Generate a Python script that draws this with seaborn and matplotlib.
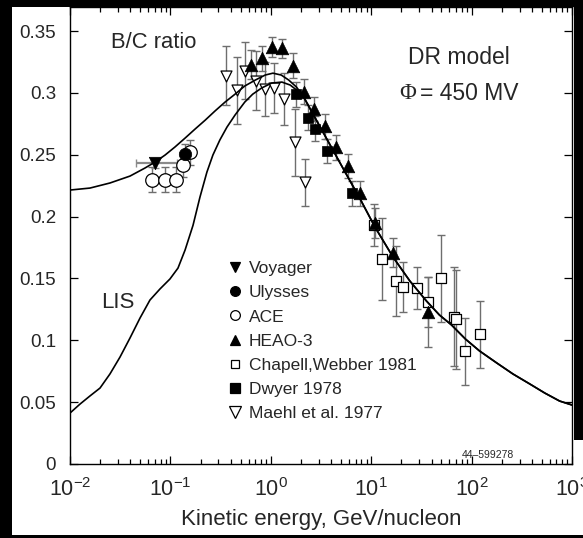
import matplotlib
matplotlib.use('Agg')
import matplotlib.pyplot as plt
import seaborn as sns
import numpy as np
from matplotlib.patches import Rectangle
from matplotlib.lines import Line2D
from matplotlib.ticker import LogLocator, NullFormatter, FixedLocator, FixedFormatter

sns.set_style('ticks')
plt.rcParams['font.family'] = ['Liberation Sans', 'DejaVu Sans']
plt.rcParams['mathtext.fontset'] = 'custom'
plt.rcParams['mathtext.rm'] = 'Liberation Sans'
plt.rcParams['mathtext.it'] = 'Liberation Sans:italic'
plt.rcParams['mathtext.bf'] = 'Liberation Sans:bold'

# ---------------- data ----------------
# modulated (Phi = 450 MV) curve
mod_E = [0.0100, 0.0158, 0.025, 0.0396, 0.0558, 0.0703, 0.0885, 0.111, 0.140, 0.176, 0.222,
         0.278, 0.350, 0.44, 0.55, 0.70, 0.88, 1.05, 1.27, 1.51, 1.80, 2.10, 2.77, 3.90, 5.5,
         7.77, 10.9, 16.5, 24.3, 35.5, 47.8, 63.1, 86.9, 120, 178, 258, 380, 535, 753, 1000]
mod_ratio = [0.2215, 0.2231, 0.2272, 0.2328, 0.2393, 0.2441, 0.2498, 0.2563, 0.2635, 0.2708,
             0.2780, 0.2854, 0.2926, 0.2990, 0.3056, 0.3104, 0.3145, 0.3160, 0.3145, 0.3104,
             0.3048, 0.2975, 0.2797, 0.2579, 0.2360, 0.2142, 0.1916, 0.1673, 0.1479, 0.1318,
             0.1205, 0.1124, 0.1010, 0.0914, 0.0817, 0.0728, 0.0647, 0.0574, 0.0509, 0.0477]
# local interstellar spectrum curve
lis_E = [0.0100, 0.0126, 0.0158, 0.0199, 0.0250, 0.0315, 0.0396, 0.0498, 0.0626, 0.0787,
         0.099, 0.119, 0.140, 0.168, 0.197, 0.231, 0.265, 0.311, 0.366, 0.44, 0.55, 0.66,
         0.81, 1.02, 1.29, 1.56, 1.83, 2.10, 2.77, 3.90, 5.5, 7.77, 10.9, 16.5, 24.3, 35.5,
         47.8, 63.1, 86.9, 120, 178, 258, 380, 535, 753, 1000]
lis_ratio = [0.0412, 0.0485, 0.0550, 0.0614, 0.0728, 0.0865, 0.1019, 0.1180, 0.1326, 0.1415,
             0.1496, 0.1584, 0.1730, 0.1930, 0.2158, 0.2360, 0.2498, 0.2620, 0.2724, 0.2821,
             0.2926, 0.2990, 0.3040, 0.3080, 0.3088, 0.3064, 0.3020, 0.2975, 0.2797, 0.2579,
             0.2360, 0.2142, 0.1916, 0.1673, 0.1479, 0.1318, 0.1205, 0.1124, 0.1010, 0.0914,
             0.0817, 0.0728, 0.0647, 0.0574, 0.0509, 0.0477]

voyager_E = [0.071]
voyager_ratio = [0.243]
voyager_err = [0.004]
voyager_E_lo = [0.045]
voyager_E_hi = [0.117]

ulysses_E = [0.141]
ulysses_ratio = [0.251]
ulysses_err = [0.008]

ace_E = [0.066, 0.089, 0.115, 0.135, 0.155]
ace_ratio = [0.230, 0.230, 0.230, 0.242, 0.252]
ace_err = [0.010, 0.010, 0.010, 0.010, 0.010]

heao_E = [0.63, 0.81, 1.02, 1.29, 1.66, 2.14, 2.69, 3.47, 4.47, 5.89, 7.76, 10.96, 16.6, 37.2]
heao_ratio = [0.323, 0.328, 0.337, 0.336, 0.322, 0.301, 0.287, 0.273, 0.256, 0.241, 0.219,
              0.195, 0.171, 0.123]
heao_err = [0.012, 0.010, 0.008, 0.008, 0.010, 0.010, 0.010, 0.010, 0.010, 0.010, 0.010,
            0.012, 0.012, 0.028]

chapell_E = [10.7, 12.9, 17.8, 20.9, 28.8, 37.2, 50.1, 66.1, 69.2, 85.1, 120]
chapell_ratio = [0.193, 0.166, 0.148, 0.143, 0.142, 0.131, 0.150, 0.119, 0.117, 0.091, 0.105]
chapell_err = [0.017, 0.033, 0.028, 0.020, 0.017, 0.020, 0.035, 0.040, 0.040, 0.027, 0.027]

dwyer_E = [1.78, 2.34, 2.75, 3.63, 6.46]
dwyer_ratio = [0.299, 0.280, 0.271, 0.253, 0.219]
dwyer_err = [0.010, 0.010, 0.010, 0.010, 0.010]

maehl_E = [0.355, 0.457, 0.55, 0.708, 0.871, 1.07, 1.35, 1.74, 2.19]
maehl_ratio = [0.314, 0.302, 0.318, 0.310, 0.303, 0.304, 0.295, 0.260, 0.228]
maehl_err = [0.024, 0.027, 0.023, 0.024, 0.022, 0.020, 0.021, 0.027, 0.019]

y_ticks = [0, 0.05, 0.1, 0.15, 0.2, 0.25, 0.3, 0.35]
y_tick_labels = ['0', '0.05', '0.1', '0.15', '0.2', '0.25', '0.3', '0.35']

legend_labels = ['Voyager', 'Ulysses', 'ACE', 'HEAO-3', 'Chapell,Webber 1981', 'Dwyer 1978',
                 'Maehl et al. 1977']

# ---------------- figure ----------------
W, H = 583, 538
fig = plt.figure(figsize=(W / 100, H / 100), dpi=100)
fig.patch.set_facecolor('white')
ax = fig.add_axes([70 / W, 74 / H, 502 / W, 457 / H])
ax.set_facecolor('white')
ax.set_xscale('log')

sns.lineplot(x=lis_E, y=lis_ratio, ax=ax, color='black', lw=1.2, estimator=None, zorder=4)
sns.lineplot(x=mod_E, y=mod_ratio, ax=ax, color='black', lw=1.2, estimator=None, zorder=4)

ecol = '#6e6e6e'
eb = dict(fmt='none', ecolor=ecol, elinewidth=1.0, capsize=3.2, capthick=1.0, zorder=2)
ax.errorbar(maehl_E, maehl_ratio, yerr=maehl_err, **eb)
ax.errorbar(chapell_E, chapell_ratio, yerr=chapell_err, **eb)
ax.errorbar(dwyer_E, dwyer_ratio, yerr=dwyer_err, **eb)
ax.errorbar(heao_E, heao_ratio, yerr=heao_err, **eb)
ax.errorbar(ace_E, ace_ratio, yerr=ace_err, **eb)
ax.errorbar(ulysses_E, ulysses_ratio, yerr=ulysses_err, **eb)
ax.errorbar(voyager_E, voyager_ratio, yerr=voyager_err,
            xerr=[[voyager_E[0] - voyager_E_lo[0]], [voyager_E_hi[0] - voyager_E[0]]],
            fmt='none', ecolor='#8a8a8a', elinewidth=1.6, capsize=3, zorder=2)

sns.scatterplot(x=maehl_E, y=maehl_ratio, ax=ax, marker='v', s=62,
                color='white', edgecolor='black', linewidth=0.9, zorder=3)
sns.scatterplot(x=chapell_E, y=chapell_ratio, ax=ax, marker='s', s=60,
                color='white', edgecolor='black', linewidth=0.9, zorder=3)
sns.scatterplot(x=ace_E, y=ace_ratio, ax=ax, marker='o', s=95,
                color='white', edgecolor='black', linewidth=0.9, zorder=3)
sns.scatterplot(x=dwyer_E, y=dwyer_ratio, ax=ax, marker='s', s=62,
                color='black', edgecolor='black', linewidth=0.5, zorder=5)
sns.scatterplot(x=heao_E, y=heao_ratio, ax=ax, marker='^', s=82,
                color='black', edgecolor='black', linewidth=0.5, zorder=5)
sns.scatterplot(x=ulysses_E, y=ulysses_ratio, ax=ax, marker='o', s=80,
                color='black', edgecolor='black', linewidth=0.5, zorder=5)
sns.scatterplot(x=voyager_E, y=voyager_ratio, ax=ax, marker='v', s=80,
                color='black', edgecolor='black', linewidth=0.5, zorder=5)

# legend
def h(m, fc, ms):
    return Line2D([], [], ls='none', marker=m, markersize=ms, markerfacecolor=fc,
                  markeredgecolor='black', markeredgewidth=0.9)
handles = [h('v', 'black', 7), h('o', 'black', 7), h('o', 'white', 7), h('^', 'black', 7.5),
           h('s', 'white', 6), h('s', 'black', 6.5), h('v', 'white', 8.5)]
ax.legend(handles, legend_labels, loc='upper left',
          bbox_to_anchor=((229 - 70) / 502, (464 - 261) / 457),
          frameon=False, fontsize=12.5, handlelength=0.7, handletextpad=0.45,
          labelspacing=0.52, borderaxespad=0, borderpad=0)

ax.set_xlim(1e-2, 1e3)
ax.set_ylim(0, 0.3695)
ax.yaxis.set_major_locator(FixedLocator(y_ticks))
ax.yaxis.set_major_formatter(FixedFormatter(y_tick_labels))
ax.xaxis.set_major_locator(LogLocator(base=10, numticks=10))
ax.xaxis.set_minor_locator(LogLocator(base=10, subs=np.arange(2, 10), numticks=20))
ax.xaxis.set_minor_formatter(NullFormatter())
ax.tick_params(which='both', direction='in', top=True, right=True, color='black', width=0.9)
ax.tick_params(which='major', length=6)
ax.tick_params(which='minor', length=3.5)
ax.tick_params(axis='y', labelsize=13.5, pad=10)
ax.tick_params(axis='x', labelsize=15.5, pad=10)
for s in ax.spines.values():
    s.set_linewidth(1.0)
    s.set_color('black')
ax.set_xlabel('Kinetic energy, GeV/nucleon', fontsize=16, labelpad=6)
ax.set_ylabel('')

def ft(x, y, s, **kw):
    fig.text(x / W, 1 - y / H, s, **kw)

ft(154, 42, 'B/C ratio', fontsize=15.8, ha='center', va='center')
ft(459, 57, 'DR model', fontsize=16.5, ha='center', va='center')
ft(408, 93, '\u03a6', fontsize=16.5, ha='center', va='center', family=['Liberation Serif', 'DejaVu Serif'])
ft(420, 93, '= 450 MV', fontsize=16.5, ha='left', va='center')
ft(118, 303, 'LIS', fontsize=16, ha='center', va='center')
ft(488, 455, '44\u2013599278', fontsize=7.5, ha='center', va='center')

# black frame remnants around the cropped picture
for (x0, y0, w, hh) in [(0, 0, 12, H), (0, 0, W, 7), (574, 0, W - 574, 440), (0, 535, W, H - 535)]:
    fig.add_artist(Rectangle((x0 / W, 1 - (y0 + hh) / H), w / W, hh / H,
                             transform=fig.transFigure, facecolor='black', edgecolor='none', zorder=100))

fig.savefig('out.png', dpi=100, facecolor='white')
